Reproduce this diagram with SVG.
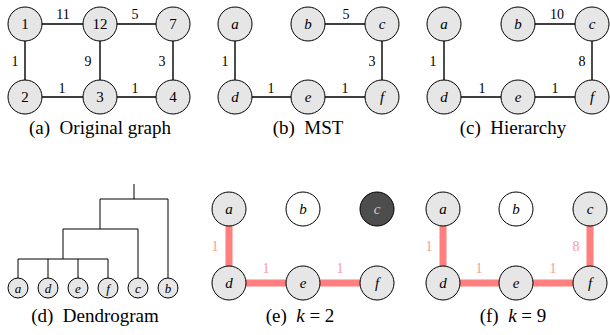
<svg xmlns="http://www.w3.org/2000/svg" width="610" height="335" viewBox="0 0 610 335" font-family="Liberation Serif">
<style>
.n{fill:#e6e6e6;stroke:#000;stroke-width:1}
.w{fill:#fff;stroke:#000;stroke-width:1}
.dk{fill:#4d4d4d;stroke:#000;stroke-width:1}
.e{stroke:#000;stroke-width:1.4;fill:none}
.r{stroke:#ff7f7f;stroke-width:7;fill:none}
.t{font-size:15px;text-anchor:middle;dominant-baseline:central;fill:#000}
.i{font-style:italic;font-size:15px;text-anchor:middle;dominant-baseline:central;fill:#000}
.l{font-size:14px;text-anchor:middle;dominant-baseline:central;fill:#000}
.lr{font-size:14px;text-anchor:middle;dominant-baseline:central;fill:#ff9999}
.c{font-size:19px;text-anchor:middle;fill:#000}
.d{stroke:#000;stroke-width:1;fill:none}
</style>
<rect width="610" height="335" fill="#fff"/>

<!-- Panel a -->
<g id="edges-a">
<path class="e" d="M25 24H173M25 24V97H172M100 24V97M173 24V97"/>
<text class="l" x="63" y="14">11</text>
<text class="l" x="135" y="14">5</text>
<text class="l" x="15" y="61">1</text>
<text class="l" x="88" y="61">9</text>
<text class="l" x="162" y="61">3</text>
<text class="l" x="62" y="88">1</text>
<text class="l" x="135" y="88">1</text>
</g>
<g id="a1"><circle class="n" cx="25" cy="24" r="17"/><text class="t" x="25" y="24">1</text></g>
<g id="a12"><circle class="n" cx="100" cy="24" r="17"/><text class="t" x="100" y="24">12</text></g>
<g id="a7"><circle class="n" cx="173" cy="24" r="17"/><text class="t" x="173" y="24">7</text></g>
<g id="a2"><circle class="n" cx="25" cy="97" r="17"/><text class="t" x="25" y="97">2</text></g>
<g id="a3"><circle class="n" cx="100" cy="97" r="17"/><text class="t" x="100" y="97">3</text></g>
<g id="a4"><circle class="n" cx="173" cy="97" r="17"/><text class="t" x="173" y="97">4</text></g>
<text class="c" x="100" y="134" xml:space="preserve">(a)  Original graph</text>

<!-- Panel b -->
<g id="edges-b">
<path class="e" d="M235 24V97H382V24H308"/>
<text class="l" x="346" y="14">5</text>
<text class="l" x="225" y="61">1</text>
<text class="l" x="372" y="61">3</text>
<text class="l" x="271" y="88">1</text>
<text class="l" x="345" y="88">1</text>
</g>
<g id="ba"><circle class="n" cx="235" cy="24" r="17"/><text class="i" x="235" y="24">a</text></g>
<g id="bb"><circle class="n" cx="308" cy="24" r="17"/><text class="i" x="308" y="24">b</text></g>
<g id="bc"><circle class="n" cx="382" cy="24" r="17"/><text class="i" x="382" y="24">c</text></g>
<g id="bd"><circle class="n" cx="235" cy="97" r="17"/><text class="i" x="235" y="97">d</text></g>
<g id="be"><circle class="n" cx="308" cy="97" r="17"/><text class="i" x="308" y="97">e</text></g>
<g id="bf"><circle class="n" cx="382" cy="97" r="17"/><text class="i" x="382" y="97">f</text></g>
<text class="c" x="308" y="134" xml:space="preserve">(b)  MST</text>

<!-- Panel c -->
<g id="edges-c">
<path class="e" d="M444 24V97H592V24H518"/>
<text class="l" x="557" y="14">10</text>
<text class="l" x="433" y="61">1</text>
<text class="l" x="582" y="61">8</text>
<text class="l" x="482" y="88">1</text>
<text class="l" x="555" y="88">1</text>
</g>
<g id="ca"><circle class="n" cx="444" cy="24" r="17"/><text class="i" x="444" y="24">a</text></g>
<g id="cb"><circle class="n" cx="518" cy="24" r="17"/><text class="i" x="518" y="24">b</text></g>
<g id="cc"><circle class="n" cx="592" cy="24" r="17"/><text class="i" x="592" y="24">c</text></g>
<g id="cd"><circle class="n" cx="444" cy="97" r="17"/><text class="i" x="444" y="97">d</text></g>
<g id="ce"><circle class="n" cx="518" cy="97" r="17"/><text class="i" x="518" y="97">e</text></g>
<g id="cf"><circle class="n" cx="592" cy="97" r="17"/><text class="i" x="592" y="97">f</text></g>
<text class="c" x="513" y="134" xml:space="preserve">(c)  Hierarchy</text>

<!-- Panel d: dendrogram -->
<g id="edges-d">
<path class="d" d="M18 278V259M48 278V259M78 278V259M108 278V259M18 259H108M63 259V229M63 229H138V278M100 229V199M100 199H168V278M134 199V184"/>
</g>
<g id="da"><circle class="n" cx="18" cy="288" r="10"/><text class="i" x="18" y="288" style="font-size:13px">a</text></g>
<g id="dd"><circle class="n" cx="48" cy="288" r="10"/><text class="i" x="48" y="288" style="font-size:13px">d</text></g>
<g id="de"><circle class="n" cx="78" cy="288" r="10"/><text class="i" x="78" y="288" style="font-size:13px">e</text></g>
<g id="df"><circle class="n" cx="108" cy="288" r="10"/><text class="i" x="108" y="288" style="font-size:13px">f</text></g>
<g id="dc"><circle class="n" cx="138" cy="288" r="10"/><text class="i" x="138" y="288" style="font-size:13px">c</text></g>
<g id="db"><circle class="n" cx="168" cy="288" r="10"/><text class="i" x="168" y="288" style="font-size:13px">b</text></g>
<text class="c" x="95" y="322" xml:space="preserve">(d)  Dendrogram</text>

<!-- Panel e -->
<g id="edges-e">
<path class="r" d="M229 209V283H377"/>
<text class="lr" x="215" y="246">1</text>
<text class="lr" x="266" y="268">1</text>
<text class="lr" x="340" y="268">1</text>
</g>
<g id="ea"><circle class="n" cx="229" cy="209" r="17"/><text class="i" x="229" y="209">a</text></g>
<g id="eb"><circle class="w" cx="303" cy="209" r="17"/><text class="i" x="303" y="209">b</text></g>
<g id="ec"><circle class="dk" cx="377" cy="209" r="17"/><text class="i" x="377" y="209" style="fill:#cccccc">c</text></g>
<g id="ed"><circle class="n" cx="229" cy="283" r="17"/><text class="i" x="229" y="283">d</text></g>
<g id="ee"><circle class="n" cx="303" cy="283" r="17"/><text class="i" x="303" y="283">e</text></g>
<g id="ef"><circle class="n" cx="377" cy="283" r="17"/><text class="i" x="377" y="283">f</text></g>
<text class="c" x="300" y="322" xml:space="preserve">(e)  <tspan font-style="italic">k</tspan> = 2</text>

<!-- Panel f -->
<g id="edges-f">
<path class="r" d="M443 209V283H590V209"/>
<text class="lr" x="429" y="246">1</text>
<text class="lr" x="576" y="246">8</text>
<text class="lr" x="479" y="268">1</text>
<text class="lr" x="553" y="268">1</text>
</g>
<g id="fa"><circle class="n" cx="443" cy="209" r="17"/><text class="i" x="443" y="209">a</text></g>
<g id="fb"><circle class="w" cx="516" cy="209" r="17"/><text class="i" x="516" y="209">b</text></g>
<g id="fc"><circle class="n" cx="590" cy="209" r="17"/><text class="i" x="590" y="209">c</text></g>
<g id="fd"><circle class="n" cx="443" cy="283" r="17"/><text class="i" x="443" y="283">d</text></g>
<g id="fe"><circle class="n" cx="516" cy="283" r="17"/><text class="i" x="516" y="283">e</text></g>
<g id="ff"><circle class="n" cx="590" cy="283" r="17"/><text class="i" x="590" y="283">f</text></g>
<text class="c" x="513" y="322" xml:space="preserve">(f)  <tspan font-style="italic">k</tspan> = 9</text>
</svg>
